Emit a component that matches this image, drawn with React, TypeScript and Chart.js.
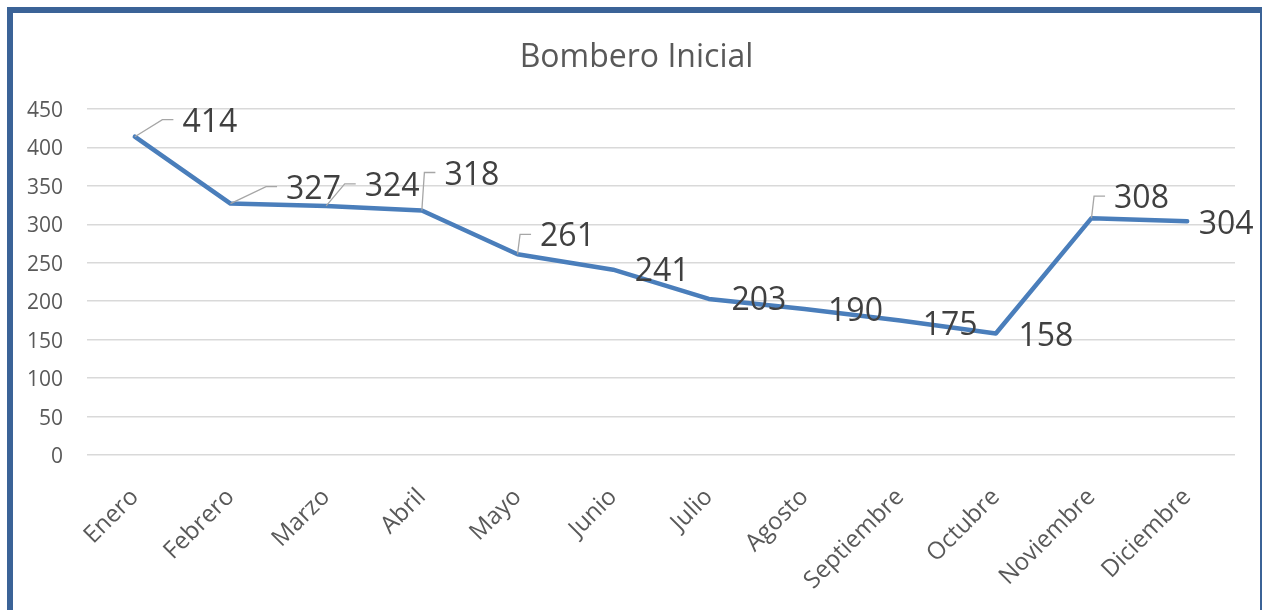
import React, { useEffect, useRef } from "react";
import { Chart, registerables } from "chart.js";

Chart.register(...registerables);

const chartTitle = "Bombero Inicial";
const months = [
  "Enero", "Febrero", "Marzo", "Abril", "Mayo", "Junio",
  "Julio", "Agosto", "Septiembre", "Octubre", "Noviembre", "Diciembre",
];
const values = [414, 327, 324, 318, 261, 241, 203, 190, 175, 158, 308, 304];
const yMin = 0;
const yMax = 450;
const yStep = 50;

// data-label placement relative to each point (styling, not data)
const labelDx = [75, 83, 66, 50, 50, 49, 50, 51, 50, 50, 50, 39];
const labelDy = [-15, -15, -20, -36, -18, 1, 1, 2, 4, 2, -20, 3];
const labelLeader = [true, true, true, true, true, false, false, false, false, false, true, false];

const FONT = "'Open Sans', 'Noto Sans', sans-serif";

const dataLabelPlugin = {
  id: "dataLabelPlugin",
  afterDatasetsDraw(chart: any) {
    const ctx = chart.ctx as CanvasRenderingContext2D;
    const meta = chart.getDatasetMeta(0);
    const ds = chart.data.datasets[0];
    ctx.save();
    ctx.font = `32px ${FONT}`;
    ctx.textAlign = "center";
    ctx.textBaseline = "middle";
    meta.data.forEach((pt: any, i: number) => {
      const text = String(ds.data[i]);
      const cx = pt.x + labelDx[i];
      const cy = pt.y + labelDy[i];
      const w = ctx.measureText(text).width;
      const left = cx - w / 2;
      if (labelLeader[i]) {
        ctx.strokeStyle = "#A6A6A6";
        ctx.lineWidth = 1.3;
        ctx.beginPath();
        ctx.moveTo(pt.x, pt.y);
        ctx.lineTo(left - 20, cy - 2);
        ctx.lineTo(left - 9, cy - 2);
        ctx.stroke();
      }
      ctx.fillStyle = "#404040";
      ctx.fillText(text, cx, cy + 1);
    });
    ctx.restore();
  },
};

export default function App() {
  const ref = useRef<HTMLCanvasElement | null>(null);

  useEffect(() => {
    if (!ref.current) return;
    const chart = new Chart(ref.current, {
      type: "line",
      data: {
        labels: months,
        datasets: [
          {
            data: values,
            borderColor: "#4A7EBB",
            borderWidth: 4.5,
            pointRadius: 0,
            tension: 0,
            borderJoinStyle: "round",
            borderCapStyle: "round",
            fill: false,
            yAxisID: "y",
          },
        ],
      },
      options: {
        responsive: false,
        animation: false,
        devicePixelRatio: 1,
        layout: { padding: { left: 0, right: 0, top: 0, bottom: 0 } },
        plugins: {
          legend: { display: false },
          tooltip: { enabled: false },
          title: {
            display: true,
            text: chartTitle,
            color: "#595959",
            font: { family: FONT, size: 32, weight: "normal" },
            padding: { top: 25.3, bottom: 32.3 },
          },
        },
        scales: {
          x: {
            offset: true,
            grid: { display: false, drawTicks: false },
            border: { display: false },
            ticks: {
              maxRotation: 45,
              minRotation: 45,
              autoSkip: false,
              color: "#595959",
              font: { family: FONT, size: 24 },
              padding: 28,
            },
            afterFit: (s: any) => {
              s.height = 155;
            },
          },
          y: {
            position: "left",
            min: yMin,
            max: yMax,
            grid: { color: "#D9D9D9", lineWidth: 1.5, drawTicks: false },
            border: { display: false },
            ticks: {
              stepSize: yStep,
              color: "#595959",
              font: { family: FONT, size: 21 },
              padding: 24,
              labelOffset: 2,
            },
            afterFit: (s: any) => {
              s.width = 74;
            },
          },
          yRight: {
            position: "right",
            min: yMin,
            max: yMax,
            grid: { display: false, drawTicks: false },
            border: { display: false },
            ticks: { display: false },
            afterFit: (s: any) => {
              s.width = 25;
            },
          },
        },
      },
      plugins: [dataLabelPlugin],
    });
    return () => chart.destroy();
  }, []);

  return (
    <div
      style={{
        position: "fixed",
        left: 7,
        top: 7,
        width: 1259,
        height: 640,
        boxSizing: "border-box",
        border: "6px solid #3B6397",
        background: "#ffffff",
        overflow: "hidden",
      }}
    >
      <canvas ref={ref} width={1247} height={597} style={{ display: "block" }} />
    </div>
  );
}
